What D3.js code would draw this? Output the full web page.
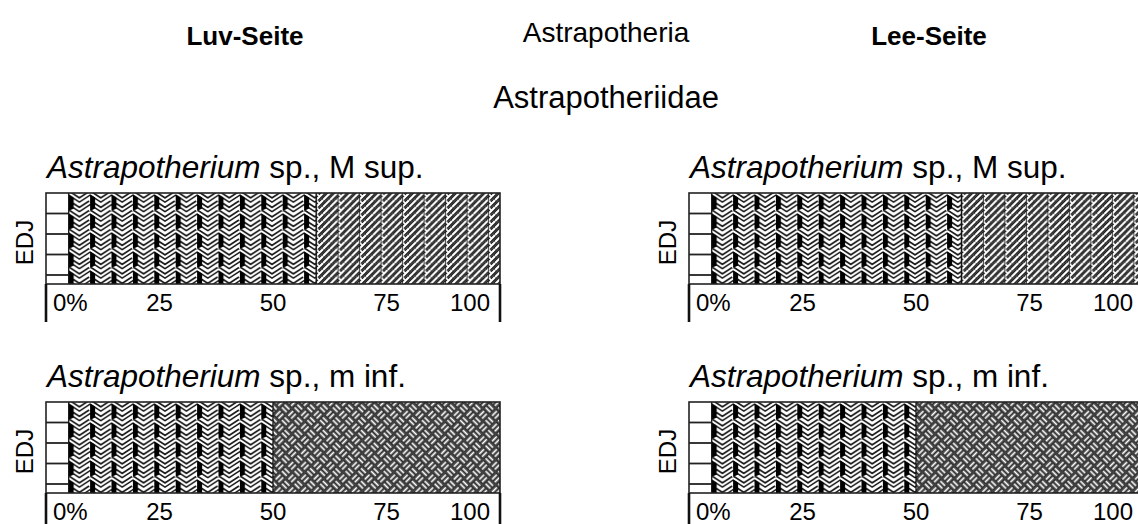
<!DOCTYPE html>
<html><head><meta charset="utf-8">
<script src="https://cdn.jsdelivr.net/npm/d3@7"></script>
<style>
html,body{margin:0;padding:0;background:#fff;overflow:hidden}
svg{display:block;font-family:"Liberation Sans",Arial,Helvetica,sans-serif}
</style>
</head><body>
<svg id="c" width="1138" height="524"></svg>
<script>
// ---- data ----
const sides = ["Luv-Seite", "Lee-Seite"];
const orderName = "Astrapotheria";
const familyName = "Astrapotheriidae";
const genusName = "Astrapotherium";
const elementNames = [" sp., M sup.", " sp., m inf."];
const axisName = "EDJ";
const patternsMsup = ["edj", "chevron", "herringbone"];
const patternsMinf = ["edj", "chevron", "basket"];
const luvMsup = [5, 54.5, 40.5];
const leeMsup = [5, 55, 40];
const luvMinf = [5, 45, 50];
const leeMinf = [5, 45, 50];
const tickValues = [0, 25, 50, 75, 100];
const tickLabels = ["0%", "25", "50", "75", "100"];

// ---- layout ----
const panelX = [46, 689];
const rowY = [193, 402];
const barW = 454, barH = 91;

const svg = d3.select("#c");
const defs = svg.append("defs");

// chevron pattern
{
  const w = 21.4, h = 19;
  const p = defs.append("pattern").attr("id", "chevron").attr("patternUnits", "userSpaceOnUse")
    .attr("width", w).attr("height", h);
  p.append("rect").attr("width", w).attr("height", h).attr("fill", "#fff");
  [-9.5, 0, 9.5, 19].forEach(y0 => {
    const d = `M0,${y0} L${w/2},${y0+7} L${w},${y0}`;
    p.append("path").attr("d", d).attr("fill", "none").attr("stroke", "#1a1a1a").attr("stroke-width", 5.2);
    p.append("path").attr("d", d).attr("fill", "none").attr("stroke", "#fff").attr("stroke-width", 1.9);
  });
  p.append("path").attr("d", `M0,1.5 L5,4.5 L5,15.5 L0,18 Z`).attr("fill", "#000");
}
// herringbone pattern
{
  const w = 21.5, h = 7;
  const p = defs.append("pattern").attr("id", "herringbone").attr("patternUnits", "userSpaceOnUse")
    .attr("width", w).attr("height", h);
  p.append("rect").attr("width", w).attr("height", h).attr("fill", "#4a4a4a");
  [-7, 0, 7, 14, 21].forEach(c => {
    p.append("line").attr("x1", c).attr("y1", h).attr("x2", c + 7).attr("y2", 0)
      .attr("stroke", "#111").attr("stroke-width", 4);
    p.append("line").attr("x1", c).attr("y1", h).attr("x2", c + 7).attr("y2", 0)
      .attr("stroke", "#fff").attr("stroke-width", 2.2);
  });
  p.append("line").attr("x1", 0.5).attr("y1", 0.5).attr("x2", 3.2).attr("y2", 3.2)
    .attr("stroke", "#fff").attr("stroke-width", 1.6);
  p.append("line").attr("x1", 0.4).attr("x2", 0.4).attr("y1", 0).attr("y2", h)
    .attr("stroke", "#222").attr("stroke-width", 0.9);
}
// basket weave pattern
{
  const s = 18, b = s / 2;
  const p = defs.append("pattern").attr("id", "basket").attr("patternUnits", "userSpaceOnUse")
    .attr("width", s).attr("height", s).attr("patternTransform", "rotate(45)");
  p.append("rect").attr("width", s).attr("height", s).attr("fill", "#4d4d4d");
  const bar = (x, y, w, h) => p.append("rect").attr("x", x).attr("y", y).attr("width", w).attr("height", h)
    .attr("fill", "#fff").attr("stroke", "#111").attr("stroke-width", 0.8);
  [[0, 0, "h"], [b, 0, "v"], [0, b, "v"], [b, b, "h"]].forEach(([x, y, o]) => {
    [1.2, 5.1].forEach(off => {
      if (o === "h") bar(x + 0.7, y + off, b - 1.4, 2.8);
      else bar(x + off, y + 0.7, 2.8, b - 1.4);
    });
  });
}

// ---- header texts ----
svg.append("text").attr("x", 245).attr("y", 45).attr("text-anchor", "middle")
  .attr("font-size", 26).attr("font-weight", "bold").attr("fill", "#000").text(sides[0]);
svg.append("text").attr("x", 929).attr("y", 45).attr("text-anchor", "middle")
  .attr("font-size", 26).attr("font-weight", "bold").attr("fill", "#000").text(sides[1]);
svg.append("text").attr("x", 606).attr("y", 42).attr("text-anchor", "middle")
  .attr("font-size", 28).attr("fill", "#000").text(orderName);
svg.append("text").attr("x", 606).attr("y", 108).attr("text-anchor", "middle")
  .attr("font-size", 31).attr("fill", "#000").text(familyName);

// ---- panels ----
const panels = [
  {col: 0, row: 0, values: luvMsup, pats: patternsMsup, el: 0},
  {col: 1, row: 0, values: leeMsup, pats: patternsMsup, el: 0},
  {col: 0, row: 1, values: luvMinf, pats: patternsMinf, el: 1},
  {col: 1, row: 1, values: leeMinf, pats: patternsMinf, el: 1}
];

const x = d3.scaleLinear().domain([0, 100]).range([0, barW]);

panels.forEach(pn => {
  const g = svg.append("g").attr("transform", `translate(${panelX[pn.col]},${rowY[pn.row]})`);
  const t = g.append("text").attr("x", 1).attr("y", -15).attr("font-size", 31.5).attr("fill", "#000");
  t.append("tspan").attr("font-style", "italic").text(genusName);
  t.append("tspan").text(elementNames[pn.el]);
  g.append("text").attr("transform", `translate(-13,${barH / 2 + 4}) rotate(-90)`)
    .attr("text-anchor", "middle").attr("font-size", 24).attr("fill", "#000").text(axisName);
  const starts = d3.cumsum([0, ...pn.values]);
  pn.values.forEach((v, i) => {
    const sg = g.append("g").attr("transform", `translate(${x(starts[i])},0)`);
    const w = x(starts[i] + v) - x(starts[i]);
    sg.append("rect").attr("width", w).attr("height", barH)
      .attr("fill", pn.pats[i] === "edj" ? "#fff" : `url(#${pn.pats[i]})`);
    if (pn.pats[i] === "edj") {
      [20.5, 41, 61.5, 82].forEach(yy => sg.append("line").attr("x1", 0).attr("x2", w)
        .attr("y1", yy).attr("y2", yy).attr("stroke", "#222").attr("stroke-width", 1.8));
    }
    if (i > 0) g.append("line").attr("x1", x(starts[i])).attr("x2", x(starts[i]))
      .attr("y1", 0).attr("y2", barH).attr("stroke", "#111").attr("stroke-width", 1.3);
  });
  g.append("rect").attr("width", barW).attr("height", barH).attr("fill", "none")
    .attr("stroke", "#222").attr("stroke-width", 1.6);
  [0, 100].forEach(v => g.append("line").attr("x1", x(v)).attr("x2", x(v))
    .attr("y1", barH).attr("y2", barH + 38).attr("stroke", "#111").attr("stroke-width", 2.6));
  tickValues.forEach((v, i) => {
    const first = i === 0, last = i === tickValues.length - 1;
    g.append("text")
      .attr("x", first ? x(v) + 7 : last ? x(v) - 10 : x(v))
      .attr("y", barH + 27)
      .attr("text-anchor", first ? "start" : last ? "end" : "middle")
      .attr("font-size", 24).attr("fill", "#000").text(tickLabels[i]);
  });
});
</script>
</body></html>
